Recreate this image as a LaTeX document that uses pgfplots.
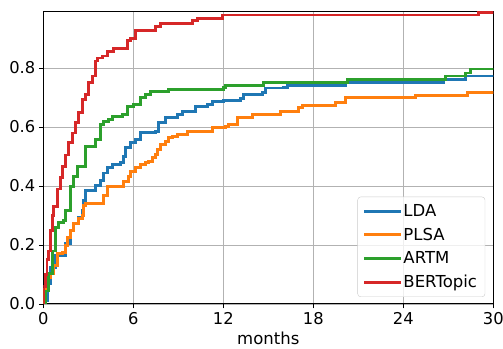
\documentclass[border=0pt]{standalone}
\usepackage{fontspec}
\setmainfont{DejaVu Sans}
\usepackage{pgfplots}
\pgfplotsset{compat=1.18}
\definecolor{cLDA}{HTML}{1F77B4}
\definecolor{cPLSA}{HTML}{FF7F0E}
\definecolor{cARTM}{HTML}{2CA02C}
\definecolor{cBERT}{HTML}{D62728}
\begin{document}
\begin{tikzpicture}
\begin{axis}[
  scale only axis, width=450pt, height=292.3pt,
  xmin=0, xmax=30, ymin=0, ymax=0.991,
  xtick={0,6,12,18,24,30}, ytick={0,0.2,0.4,0.6,0.8},
  yticklabel style={/pgf/number format/.cd, fixed, fixed zerofill, precision=1},
  /pgf/number format/assume math mode=true,
  tick label style={font=\fontsize{16.3}{19}\selectfont},
  label style={font=\fontsize{16.5}{19}\selectfont},
  grid=major, grid style={color=black!30, line width=0.9pt},
  tick align=outside, major tick length=4.5pt, tick style={black, line width=0.9pt},
  xtick pos=left, ytick pos=left,
  axis line style={line width=1pt},
  xlabel={months},
  xlabel style={yshift=-1pt},
  legend cell align=left,
  legend style={at={(0.982,0.024)}, anchor=south east, draw=black!20, rounded corners=3pt,
    fill=white, fill opacity=0.8, text opacity=1, font=\fontsize{16.5}{19}\selectfont,
    inner xsep=6pt, inner ysep=5.5pt, row sep=6pt,
    nodes={inner sep=2pt},
    /tikz/every even column/.append style={column sep=10pt}},
  legend image code/.code={\draw[#1, line width=2.8pt] (0pt,0pt) -- (35pt,0pt);},
  every axis plot/.append style={line width=2.8pt, const plot, line join=miter, line cap=rect},
]
\addplot[cLDA] coordinates {
(0,0) (0.13,0.01) (0.27,0.068) (0.47,0.123) (0.8,0.164) (1.47,0.205) (1.8,0.25) (2.0,0.274)
(2.33,0.294) (2.6,0.318) (2.67,0.352) (2.8,0.386) (3.47,0.403) (3.8,0.42) (4.0,0.444)
(4.27,0.462) (4.6,0.472) (5.13,0.479) (5.33,0.499) (5.47,0.53) (5.8,0.547) (6.13,0.557)
(6.47,0.581) (7.47,0.585) (7.67,0.615) (8.13,0.632) (8.93,0.643) (9.27,0.653) (10.13,0.67)
(10.93,0.677) (11.27,0.687) (12.0,0.69) (13.13,0.697) (13.33,0.711) (14.6,0.718) (14.8,0.732)
(16.0,0.735) (16.27,0.742) (20.13,0.752) (26.67,0.762) (28.13,0.773) (30,0.773)
};
\addlegendentry{LDA}
\addplot[cPLSA] coordinates {
(0,0) (0.02,0.01) (0.1,0.05) (0.27,0.089) (0.47,0.103) (0.67,0.13) (0.93,0.171) (1.27,0.174)
(1.47,0.198) (1.6,0.226) (1.8,0.25) (2.0,0.274) (2.33,0.29) (2.6,0.30) (2.67,0.335)
(2.8,0.342) (4.0,0.369) (4.27,0.397) (5.33,0.414) (5.67,0.431) (5.8,0.448) (6.13,0.462)
(6.47,0.472) (6.8,0.479) (7.0,0.482) (7.27,0.496) (7.47,0.506) (7.6,0.523) (7.8,0.54)
(8.13,0.55) (8.33,0.564) (8.6,0.568) (8.93,0.574) (9.6,0.585) (11.27,0.598) (12.13,0.602)
(12.33,0.609) (12.93,0.632) (13.93,0.643) (15.8,0.653) (17.0,0.667) (17.27,0.673)
(19.47,0.684) (20.13,0.70) (24.8,0.708) (28.27,0.718) (30,0.718)
};
\addlegendentry{PLSA}
\addplot[cARTM] coordinates {
(0,0) (0.13,0.044) (0.33,0.103) (0.6,0.18) (0.8,0.26) (1.0,0.277) (1.33,0.284) (1.47,0.318)
(1.8,0.397) (2.0,0.431) (2.27,0.465) (2.8,0.533) (3.47,0.557) (3.8,0.609) (4.0,0.619)
(4.33,0.626) (4.6,0.636) (5.27,0.643) (5.6,0.67) (6.0,0.677) (6.47,0.70) (6.8,0.711)
(7.13,0.721) (8.33,0.728) (12.0,0.735) (12.13,0.742) (14.67,0.752) (20.27,0.762)
(26.8,0.773) (28.13,0.783) (28.47,0.797) (30,0.797)
};
\addlegendentry{ARTM}
\addplot[cBERT] coordinates {
(0,0) (0.05,0.06) (0.13,0.10) (0.25,0.15) (0.33,0.18) (0.47,0.25) (0.6,0.30) (0.67,0.33)
(0.93,0.39) (1.13,0.43) (1.27,0.465) (1.47,0.505) (1.67,0.547) (1.93,0.58) (2.13,0.615)
(2.33,0.65) (2.6,0.694) (2.8,0.711) (3.0,0.752) (3.27,0.773) (3.47,0.824) (3.6,0.834)
(3.93,0.841) (4.27,0.855) (4.67,0.865) (5.6,0.892) (5.8,0.899) (6.13,0.926) (7.47,0.94)
(7.8,0.95) (9.93,0.96) (10.27,0.967) (11.93,0.98) (29.0,0.987) (30,0.987)
};
\addlegendentry{BERTopic}
\end{axis}
\pgfresetboundingbox
\path[use as bounding box] ([shift={(-43.3pt,-45pt)}]current axis.south west) rectangle ([shift={(9.7pt,11.7pt)}]current axis.north east);
\end{tikzpicture}
\end{document}
